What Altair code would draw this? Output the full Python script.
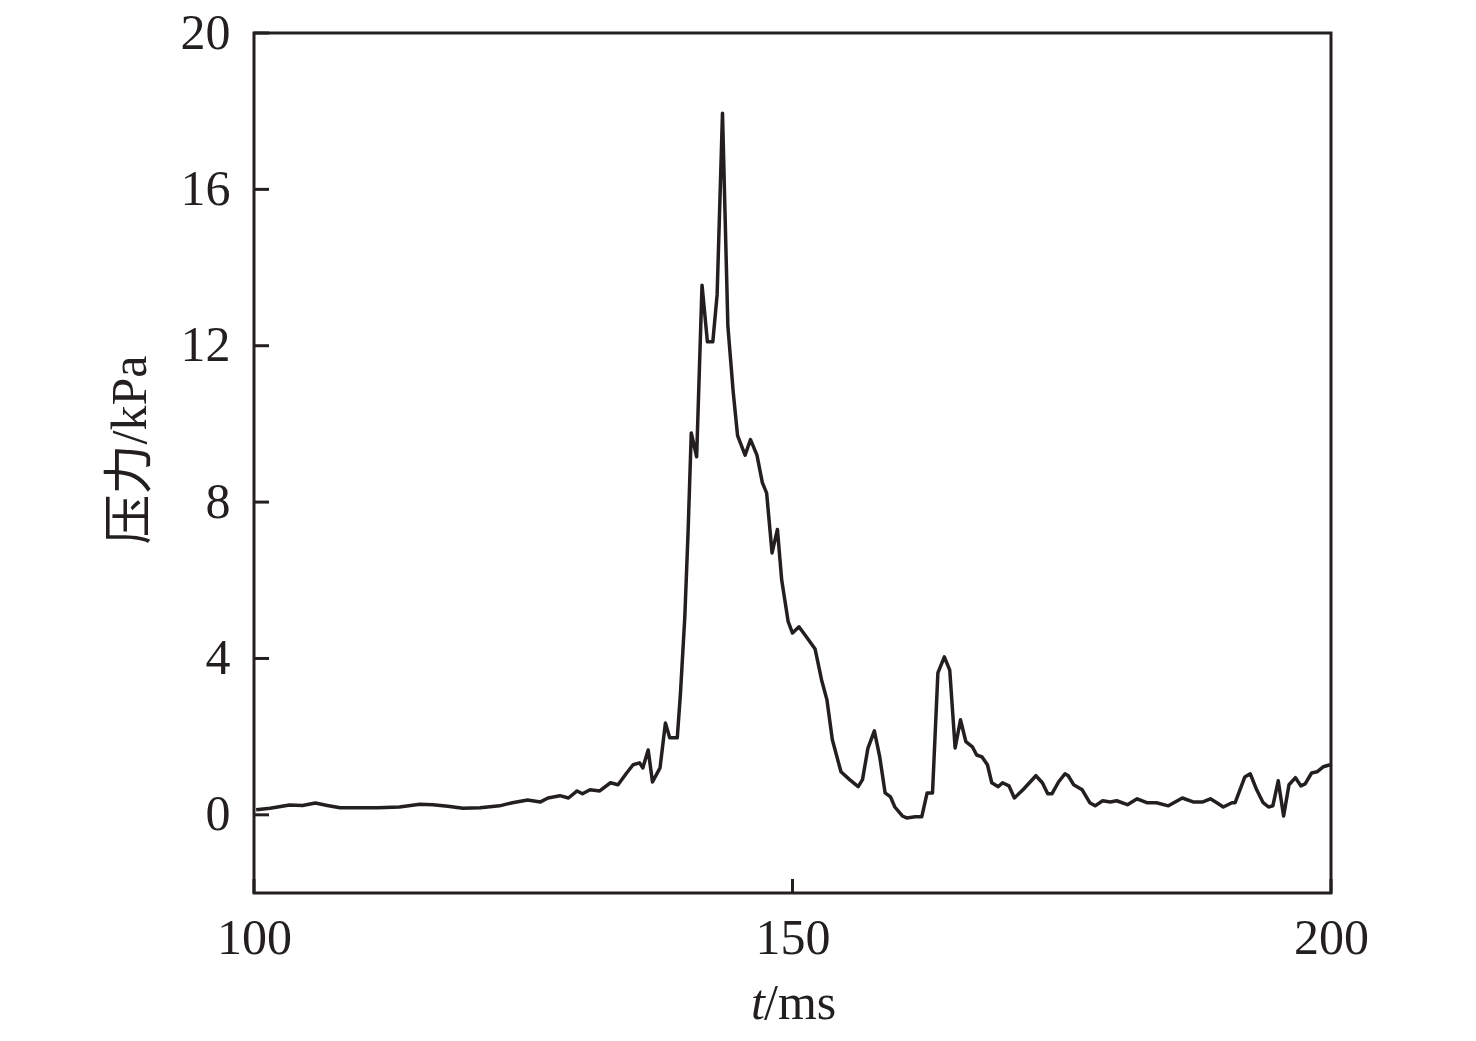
import altair as alt
import pandas as pd

t_ms = [100.2, 101.5, 103.3, 104.5, 105.7, 106.8, 108.0, 110.0, 111.5, 113.5, 115.4, 116.6, 118.0, 119.4,
        121.0, 122.8, 124.0, 125.4, 126.6, 127.3, 128.4, 129.2, 130.0, 130.5, 131.2, 132.1, 133.1, 133.8,
        134.6, 135.2, 135.8, 136.1, 136.6, 137.0, 137.7, 138.2, 138.6, 139.3, 139.6, 140.0, 140.3, 140.6,
        141.1, 141.6, 142.1, 142.6, 143.0, 143.5, 144.0, 144.5, 144.9, 145.6, 146.1, 146.7, 147.2, 147.6,
        148.1, 148.6, 149.0, 149.6, 150.0, 150.6, 151.3, 152.1, 152.7, 153.2, 153.7, 154.5, 155.3, 156.1,
        156.5, 157.0, 157.6, 158.1, 158.6, 159.1, 159.5, 160.2, 160.6, 161.4, 162.0, 162.5, 163.0, 163.5,
        164.1, 164.6, 165.1, 165.6, 166.1, 166.7, 167.1, 167.6, 168.1, 168.5, 169.1, 169.5, 170.1, 170.6,
        171.4, 172.6, 173.2, 173.7, 174.1, 174.7, 175.3, 175.6, 176.1, 176.9, 177.6, 178.1, 178.8, 179.5,
        180.1, 181.1, 182.0, 182.9, 183.8, 184.9, 186.2, 187.2, 188.1, 188.8, 189.4, 190.0, 190.8, 191.1,
        192.0, 192.5, 193.1, 193.7, 194.2, 194.6, 195.1, 195.6, 196.1, 196.7, 197.2, 197.6, 198.2, 198.7,
        199.3, 199.9]
pressure = [0.13, 0.17, 0.25, 0.24, 0.30, 0.24, 0.18, 0.18, 0.18, 0.20, 0.27, 0.26, 0.22, 0.17,
            0.18, 0.23, 0.31, 0.38, 0.33, 0.43, 0.49, 0.43, 0.61, 0.54, 0.64, 0.61, 0.82, 0.77,
            1.07, 1.28, 1.33, 1.20, 1.66, 0.84, 1.20, 2.35, 1.97, 1.97, 3.12, 5.06, 7.20, 9.77,
            9.16, 13.55, 12.10, 12.10, 13.30, 17.95, 12.50, 10.80, 9.70, 9.20, 9.60, 9.20, 8.50, 8.23,
            6.70, 7.30, 6.00, 4.94, 4.65, 4.81, 4.55, 4.24, 3.45, 2.94, 1.92, 1.10, 0.90, 0.72,
            0.90, 1.70, 2.15, 1.48, 0.56, 0.46, 0.20, -0.03, -0.08, -0.05, -0.05, 0.56, 0.56, 3.63,
            4.04, 3.70, 1.71, 2.43, 1.87, 1.74, 1.53, 1.48, 1.28, 0.82, 0.72, 0.82, 0.74, 0.43,
            0.64, 1.00, 0.82, 0.54, 0.54, 0.84, 1.05, 1.00, 0.77, 0.64, 0.31, 0.23, 0.36, 0.33,
            0.36, 0.26, 0.41, 0.31, 0.31, 0.23, 0.43, 0.33, 0.33, 0.41, 0.31, 0.20, 0.31, 0.31,
            0.97, 1.05, 0.64, 0.31, 0.20, 0.23, 0.87, -0.03, 0.77, 0.95, 0.74, 0.79, 1.07, 1.10,
            1.23, 1.28]

x_ticks = [100, 150, 200]
y_ticks = [0, 4, 8, 12, 16, 20]

INK = "#231f20"
FONT = "Liberation Serif, Times New Roman, Noto Sans CJK SC"

df = pd.DataFrame({"t": t_ms, "p": pressure})
xt = pd.DataFrame({"t": x_ticks})
yt = pd.DataFrame({"p": y_ticks})
one = pd.DataFrame({"a": [0]})

xs = alt.Scale(domain=[100, 200], nice=False)
ys = alt.Scale(domain=[-2, 20], nice=False)

line = alt.Chart(df).mark_line(color=INK, strokeWidth=3.5, clip=True, strokeJoin="round").encode(
    x=alt.X("t:Q", scale=xs, axis=alt.Axis(values=x_ticks, tickSize=0, domain=False, grid=False,
                                           labelFont=FONT, labelFontSize=50, labelColor=INK,
                                           labelPadding=20, title=None, labelFlush=False)),
    y=alt.Y("p:Q", scale=ys, axis=alt.Axis(values=y_ticks, tickSize=0, domain=False, grid=False,
                                           labelFont=FONT, labelFontSize=50, labelColor=INK,
                                           labelPadding=24, title=None, labelFlush=False)),
)

xtick_marks = alt.Chart(xt).mark_rule(color=INK, strokeWidth=3).encode(
    x=alt.X("t:Q", scale=xs), y=alt.value(860), y2=alt.value(846)
)
ytick_marks = alt.Chart(yt).mark_rule(color=INK, strokeWidth=3).encode(
    y=alt.Y("p:Q", scale=ys), x=alt.value(0), x2=alt.value(15)
)

xtitle_t = alt.Chart(one).mark_text(text="t", font=FONT, fontSize=50, fontStyle="italic",
                                    color=INK, align="right", baseline="alphabetic").encode(
    x=alt.value(511), y=alt.value(986))
xtitle_ms = alt.Chart(one).mark_text(text="/ms", font=FONT, fontSize=50,
                                     color=INK, align="left", baseline="alphabetic").encode(
    x=alt.value(510), y=alt.value(986))
ytitle = alt.Chart(one).mark_text(text="压力/kPa", font=FONT, fontSize=50, angle=270,
                                  color=INK, align="center", baseline="middle").encode(
    x=alt.value(-123), y=alt.value(417))

chart = alt.layer(line, xtick_marks, ytick_marks, xtitle_t, xtitle_ms, ytitle).properties(
    width=1077, height=860, autosize="none",
    padding={"left": 246, "top": 25, "right": 137, "bottom": 140},
    background="white",
).configure_view(stroke=INK, strokeWidth=3)

chart.save("out.html", embed_options={"renderer": "svg", "actions": False})
